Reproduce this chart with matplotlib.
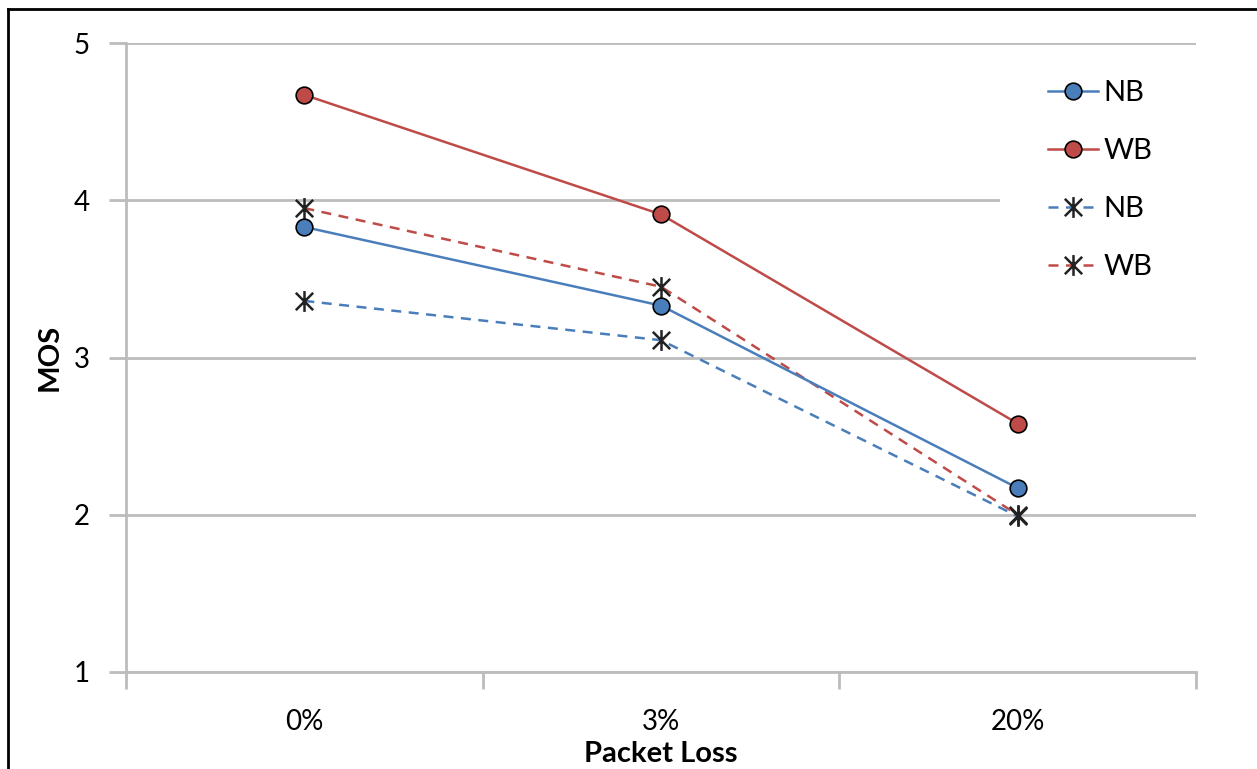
import matplotlib
matplotlib.use("Agg")
import matplotlib.pyplot as plt
from matplotlib.path import Path
from matplotlib.lines import Line2D
from matplotlib.patches import Rectangle

plt.rcParams['font.family'] = ['Lato', 'DejaVu Sans']

categories = ['0%', '3%', '20%']
nb_solid = [3.83, 3.33, 2.17]
wb_solid = [4.67, 3.91, 2.58]
nb_dashed = [3.36, 3.11, 1.99]
wb_dashed = [3.95, 3.45, 2.00]
labels = ['NB', 'WB', 'NB', 'WB']

blue = '#4a7ebb'
red = '#be4b48'
grid_c = '#bcbcbc'

W, H = 1257, 769
fig = plt.figure(figsize=(W / 100, H / 100), dpi=100)
ax = fig.add_axes([126 / W, 1 - 672 / H, (1196 - 126) / W, (672 - 43) / H])

x = list(range(len(categories)))
ax.set_xlim(-0.5, len(categories) - 0.5)
ax.set_ylim(1, 5)

star = Path([(-1, -1), (1, 1), (-1, 1), (1, -1), (0, -1.2), (0, 1.2)],
            [Path.MOVETO, Path.LINETO, Path.MOVETO, Path.LINETO, Path.MOVETO, Path.LINETO])

ax.plot(x, nb_solid, color=blue, lw=1.8, marker='o', ms=12, mfc=blue, mec='black', mew=1.2,
        label=labels[0], zorder=4)
ax.plot(x, wb_solid, color=red, lw=1.8, marker='o', ms=12, mfc=red, mec='black', mew=1.2,
        label=labels[1], zorder=4)
ax.plot(x, nb_dashed, color=blue, lw=1.8, ls=(0, (4, 3)), marker=star, ms=15, mec='#222222',
        mew=1.8, label=labels[2], zorder=3)
ax.plot(x, wb_dashed, color=red, lw=1.8, ls=(0, (4, 3)), marker=star, ms=15, mec='#222222',
        mew=1.8, label=labels[3], zorder=3)

ax.set_yticks([1, 2, 3, 4, 5])
ax.yaxis.grid(True, color=grid_c, lw=2)
ax.set_axisbelow(True)
ax.set_xticks(x)
ax.set_xticklabels(categories)
ax.set_xticks([-0.5, 0.5, 1.5, 2.5], minor=True)
ax.tick_params(axis='x', which='major', length=0, pad=27, labelsize=20, colors='black')
ax.tick_params(axis='x', which='minor', length=12, width=2, color=grid_c)
ax.tick_params(axis='y', which='major', length=12, width=2, color=grid_c, labelsize=20, pad=14)

for s in ['top', 'right']:
    ax.spines[s].set_visible(False)
for s in ['left', 'bottom']:
    ax.spines[s].set_color(grid_c)
    ax.spines[s].set_linewidth(2)

ax.set_ylabel('MOS', fontsize=21, fontweight='bold')
ax.yaxis.label.set_va('center')
ax.yaxis.set_label_coords(-(126 - 50) / 1070, 0.5)
ax.set_xlabel('Packet Loss', fontsize=21, fontweight='bold')
ax.xaxis.set_label_coords(0.5, -(741 - 672) / 629)

# white patch behind legend (hides part of gridline at 4)
ax.add_patch(Rectangle((1000 / W, 1 - 300 / H), 200 / W, 240 / H, transform=fig.transFigure,
                       facecolor='white', edgecolor='none', zorder=1, clip_on=False))

leg = fig.legend(loc='upper left', bbox_to_anchor=(1048 / W, 1 - 80 / H), frameon=False,
                 fontsize=21, handlelength=1.7, handletextpad=0.2, labelspacing=1.1,
                 borderpad=0, borderaxespad=0)

# figure border (left and top)
fig.add_artist(Line2D([8 / W, 8 / W], [0, 1 - 9 / H], color='black', lw=2, transform=fig.transFigure))
fig.add_artist(Line2D([8 / W, 1], [1 - 9 / H, 1 - 9 / H], color='black', lw=2, transform=fig.transFigure))

fig.savefig('out.png', dpi=100)
